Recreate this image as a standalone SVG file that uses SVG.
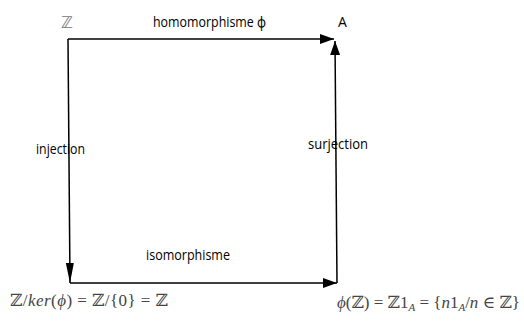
<svg xmlns="http://www.w3.org/2000/svg" width="524" height="321" viewBox="0 0 524 321">
<style>
.lbl{font-family:"Open Sans","Noto Sans","DejaVu Sans",sans-serif;font-size:14px;fill:#000}
.math{font-family:"Liberation Serif","DejaVu Serif",serif;font-size:17px;fill:#444}
.it{font-style:italic}
.ln{stroke:#000;stroke-width:1.5;fill:none}
</style>
<defs>
<marker id="ah" viewBox="0 0 14 10" refX="14" refY="5" markerWidth="14" markerHeight="10" markerUnits="userSpaceOnUse" orient="auto">
<path d="M0,0 L14,5 L0,10 z" fill="#000"/>
</marker>
<marker id="ahl" viewBox="0 0 20 8" refX="20" refY="4" markerWidth="20" markerHeight="8" markerUnits="userSpaceOnUse" orient="auto">
<path d="M0,0 L20,4 L0,8 z" fill="#000"/>
</marker>
</defs>
<g id="connectors">
<path class="ln" d="M68,39 L334,39" marker-end="url(#ah)"/>
<path class="ln" d="M68,39 L70,283" marker-end="url(#ahl)"/>
<path class="ln" d="M70,283 L337,283" marker-end="url(#ah)"/>
<path class="ln" d="M337,283 L335,41" marker-end="url(#ah)"/>
</g>
<g id="node-Z"><text x="61" y="28" style="font-family:'DejaVu Sans',sans-serif;font-size:16px;fill:#777">ℤ</text></g>
<g id="node-A"><text class="lbl" x="338" y="27">A</text></g>
<g id="label-homo"><text class="lbl" x="153" y="27" textLength="113" lengthAdjust="spacingAndGlyphs">homomorphisme ϕ</text></g>
<g id="label-inj"><text class="lbl" x="36" y="154" textLength="49" lengthAdjust="spacingAndGlyphs">injection</text></g>
<g id="label-surj"><text class="lbl" x="308" y="149" textLength="60" lengthAdjust="spacingAndGlyphs">surjection</text></g>
<g id="label-iso"><text class="lbl" x="146" y="260" textLength="84" lengthAdjust="spacingAndGlyphs">isomorphisme</text></g>
<g id="node-quot"><text class="math" x="10" y="306" textLength="158" lengthAdjust="spacing">ℤ/<tspan class="it">ker</tspan>(<tspan class="it">ϕ</tspan>) = ℤ/{0} = ℤ</text></g>
<g id="node-image"><text class="math" x="337" y="308" textLength="183" lengthAdjust="spacing"><tspan class="it">ϕ</tspan>(ℤ) = ℤ1<tspan class="it" font-size="11" dy="3">A</tspan><tspan dy="-3"> = {</tspan><tspan class="it">n</tspan>1<tspan class="it" font-size="11" dy="3">A</tspan><tspan dy="-3">/</tspan><tspan class="it">n</tspan> ∈ ℤ}</text></g>
</svg>
